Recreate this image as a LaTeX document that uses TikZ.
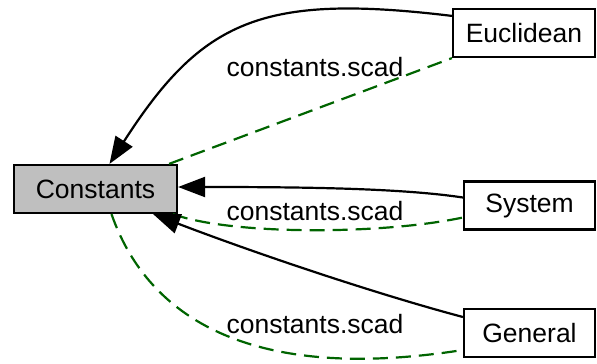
\documentclass[tikz,border=0pt]{standalone}
\usepackage{fontspec}
\setmainfont{Liberation Sans}
\usetikzlibrary{arrows.meta, positioning, calc}
\definecolor{darkgreen}{RGB}{0,100,0}
\begin{document}
\begin{tikzpicture}[x=1pt, y=-1pt,
    every node/.style={font=\fontsize{26.5}{30}\selectfont},
    box/.style={rectangle, draw, line width=2.2pt, minimum height=48pt, inner sep=0pt},
    lbl/.style={inner sep=0pt},
    uses/.style={line width=2.2pt, -{Triangle[length=27pt, width=20pt]}},
    incl/.style={line width=2.2pt, darkgreen, dash pattern=on 15pt off 8pt}]
    \useasboundingbox (0,0) rectangle (597,364);
    \node[box, fill=black!25, minimum width=163pt] (cons) at (95.5,189) {Constants};
    \node[box, minimum width=142pt] (eucl) at (524,33) {Euclidean};
    \node[box, minimum width=131pt] (sys) at (529.5,205.5) {System};
    \node[box, minimum width=131pt] (gen) at (529.5,333) {General};
    % Euclidean
    \draw[uses] ([yshift=-8pt]eucl.north west) .. controls (262,-7) and (202,20) .. ([xshift=14pt]cons.north);
    \draw[incl] ([xshift=-9pt]cons.north east) -- (eucl.south west);
    \node[lbl] (lbleucl) at (315,67) {constants.scad};
    % System
    \draw[uses] ([yshift=8pt]sys.west) .. controls (400,188) and (300,187) .. ([yshift=2pt]cons.east);
    \draw[incl] ([xshift=-5pt]cons.south east) .. controls (230,235) and (380,235) .. ([yshift=-12pt]sys.west);
    \node[lbl] (lblsys) at (315,211) {constants.scad};
    % General
    \draw[uses] ([yshift=16pt]gen.west) .. controls (380,295) and (260,255) .. ([xshift=-25pt]cons.south east);
    \draw[incl] ([xshift=16pt]cons.south) .. controls (145,310) and (240,385) .. ([yshift=-17pt]gen.west);
    \node[lbl] (lblgen) at (315,324) {constants.scad};
\end{tikzpicture}
\end{document}
